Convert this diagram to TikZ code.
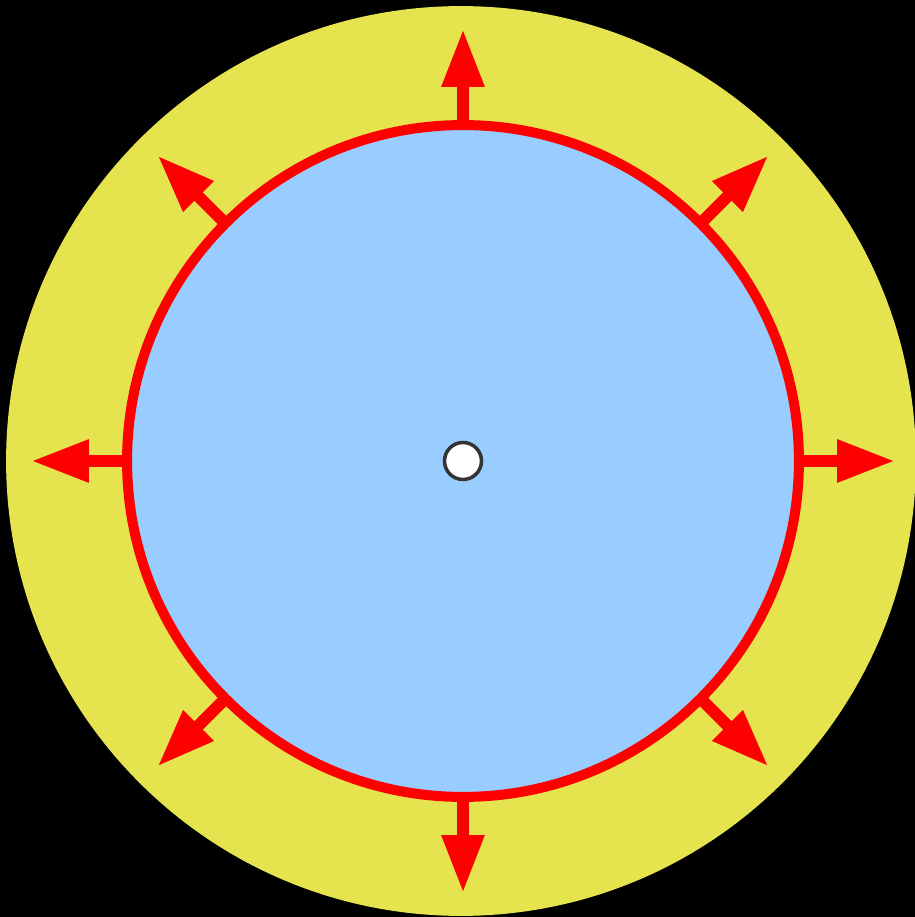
\documentclass[tikz,border=0pt]{standalone}
\usepackage{tikz}
\usetikzlibrary{arrows.meta,calc}
\definecolor{shellyellow}{RGB}{230,228,78}
\definecolor{poolblue}{RGB}{153,204,255}
\definecolor{dotgray}{RGB}{51,51,51}

\begin{document}
\begin{tikzpicture}[
  x=0.02cm, y=0.02cm,
  disc/.style={circle,inner sep=0pt,outer sep=0pt},
  arr/.style={-{Triangle[length=1.16cm,width=0.8cm]},line width=0.24cm,red},
]
  \fill[black] (0,0) rectangle (915,917);
  \useasboundingbox (0,0) rectangle (915,917);

  \node[disc,fill=shellyellow,minimum size=18.2cm] (shell) at (461,456) {};
  \node[disc,fill=poolblue,draw=red,line width=0.2cm,minimum size=13.44cm] (pool) at (463,456) {};
  \node[disc,fill=white,draw=dotgray,line width=0.07cm,minimum size=0.74cm] (core) at (463,456) {};

  % pressure arrows
  \foreach \a in {0,45,...,315}{
    \coordinate (tip\a) at ($(pool.center)+(\a:432)$);
    \draw[arr] (pool.\a) -- (tip\a);
  }
\end{tikzpicture}
\end{document}
